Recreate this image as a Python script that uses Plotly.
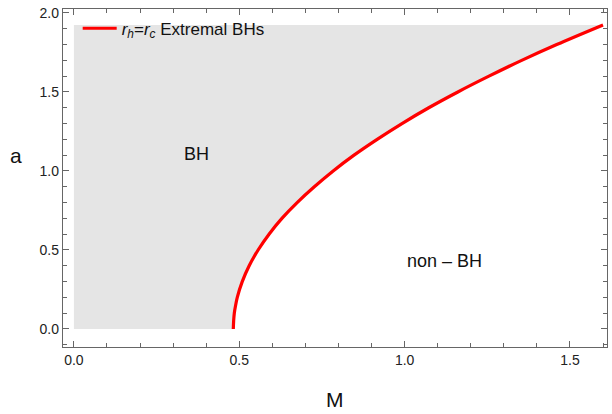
import plotly.graph_objects as go

# Extremal BH curve (r_h = r_c)
a_curve = [0.0, 0.05, 0.10, 0.15, 0.20, 0.30, 0.40, 0.50, 0.60, 0.70, 0.80, 0.90,
           1.00, 1.10, 1.20, 1.30, 1.40, 1.50, 1.60, 1.70, 1.80, 1.924]
M_curve = [0.482, 0.483, 0.485, 0.489, 0.494, 0.509, 0.530, 0.557, 0.590, 0.629, 0.675, 0.727,
           0.784, 0.847, 0.917, 0.992, 1.073, 1.161, 1.255, 1.354, 1.460, 1.600]
M_min = 0.0
a_min = 0.0

x_ticks = [0.0, 0.5, 1.0, 1.5]
y_ticks = [0.0, 0.5, 1.0, 1.5, 2.0]
legend_name = "<i>r<sub>h</sub></i>=<i>r<sub>c</sub></i> Extremal BHs"
region_labels = [("BH", 0.37, 1.11), ("non \u2013 BH", 1.12, 0.43)]

a_max = a_curve[-1]
M_end = M_curve[-1]

# BH region: left of the extremal curve
reg_x = [M_min, M_min, M_end] + M_curve[::-1] + [M_min]
reg_y = [a_min, a_max, a_max] + a_curve[::-1] + [a_min]

fig = go.Figure()
fig.add_trace(go.Scatter(x=reg_x, y=reg_y, fill="toself", fillcolor="#e5e5e5",
                         mode="lines", line=dict(width=0), showlegend=False, hoverinfo="skip"))
fig.add_trace(go.Scatter(x=M_curve, y=a_curve, mode="lines", name=legend_name,
                         line=dict(color="#ff0000", width=3.2, shape="spline")))

for txt, xx, yy in region_labels:
    fig.add_annotation(x=xx, y=yy, text=txt, showarrow=False,
                       font=dict(size=18, color="#111", family="Liberation Sans"))

fig.add_annotation(xref="paper", yref="paper", x=0.5, y=-0.156, yanchor="middle",
                   text="M", showarrow=False, font=dict(size=21, color="#111", family="Liberation Sans"))
fig.add_annotation(xref="paper", x=-0.072, y=1.1, xanchor="right",
                   text="a", showarrow=False, font=dict(size=21, color="#111", family="Liberation Sans"))

axis_common = dict(showline=True, linecolor="#666", linewidth=1.3, mirror="allticks",
                   ticks="inside", ticklen=6, tickcolor="#666", tickwidth=1.2,
                   showgrid=False, zeroline=False, tickformat=".1f", automargin=False,
                   tickfont=dict(size=14, color="#222", family="Liberation Sans"),
                   minor=dict(ticks="inside", ticklen=3.5, tickcolor="#666", dtick=0.1, showgrid=False))

fig.update_xaxes(range=[-0.033, 1.612], tickvals=x_ticks, ticklabelstandoff=0, **axis_common)
fig.update_yaxes(range=[-0.114, 2.025], tickvals=y_ticks, ticklabelstandoff=0, **axis_common)

fig.update_layout(width=612, height=414, margin=dict(l=63, r=5, t=9, b=67),
                  plot_bgcolor="white", paper_bgcolor="white",
                  font=dict(family="Liberation Sans"),
                  legend=dict(x=0.027, y=0.995, xanchor="left", yanchor="top",
                              bgcolor="rgba(0,0,0,0)", font=dict(size=17, color="#111"),
                              itemwidth=34))

fig.write_html("out.html", config={"displayModeBar": False},
               post_script="document.body.style.margin='0';document.body.style.overflow='hidden';")
